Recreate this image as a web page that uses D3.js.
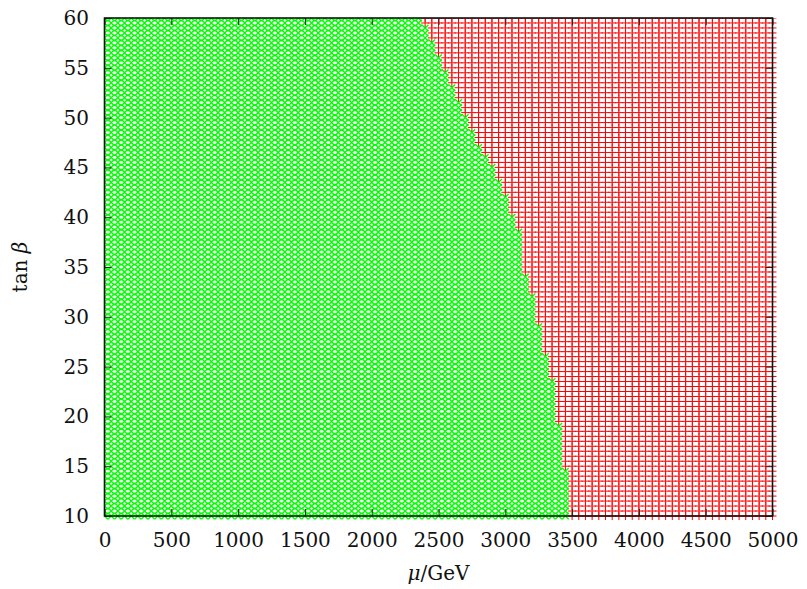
<!DOCTYPE html>
<html>
<head>
<meta charset="utf-8">
<script src="https://cdn.jsdelivr.net/npm/d3@7"></script>
<style>
  html, body { margin: 0; padding: 0; background: #fff; }
  svg text { font-family: "DejaVu Serif", serif; fill: #111; }
</style>
</head>
<body>
<svg id="chart" width="807" height="589"></svg>
<script>
// Parameter scan in the (mu, tan beta) plane.
// Scan lattice: mu in steps of 50 GeV, tan beta in steps of 0.5.
const muScan = d3.range(0, 5000 + 1, 50);
const tanBetaScan = d3.range(10, 60 + 0.001, 0.5);

// Upper edge of the allowed region: for tan beta >= bandFrom[i]
// (and below the next band), points with mu <= bandMaxMu[i] are allowed.
const bandFrom  = [10,   15,   19.5, 24,   26.5, 29.5, 32.5, 34.5, 39,   40.5, 42.5, 44,
                   45.5, 46.5, 47.5, 49,   50.5, 52,   53.5, 55,   56.5, 58,   59.5];
const bandMaxMu = [3450, 3400, 3350, 3300, 3250, 3200, 3150, 3100, 3050, 3000, 2950, 2900,
                   2850, 2800, 2750, 2700, 2650, 2600, 2550, 2500, 2450, 2400, 2350];

const xTicks = [0, 500, 1000, 1500, 2000, 2500, 3000, 3500, 4000, 4500, 5000];
const yTicks = [10, 15, 20, 25, 30, 35, 40, 45, 50, 55, 60];

const W = 807, H = 589;
const margin = { left: 104.5, right: 34.5, top: 18, bottom: 73 };
const iw = W - margin.left - margin.right;
const ih = H - margin.top - margin.bottom;

const x = d3.scaleLinear().domain([0, 5000]).range([0, iw]);
const y = d3.scaleLinear().domain([10, 60]).range([ih, 0]);

function maxMuFor(tb) {
  let m = bandMaxMu[0];
  for (let i = 0; i < bandFrom.length; i++) {
    if (tb >= bandFrom[i] - 1e-9) m = bandMaxMu[i];
  }
  return m;
}

const allowed = [], excluded = [];
tanBetaScan.forEach(tb => {
  const lim = maxMuFor(tb);
  muScan.forEach(mu => {
    (mu <= lim ? allowed : excluded).push({ mu, tb });
  });
});

const svg = d3.select("#chart");
const defs = svg.append("defs");
// points are cut at the left and top frame edges only
defs.append("clipPath").attr("id", "plotclip")
  .append("rect")
  .attr("x", 0).attr("y", 0)
  .attr("width", iw + 12).attr("height", ih + 12);

const g = svg.append("g").attr("transform", `translate(${margin.left},${margin.top})`);
const pts = g.append("g").attr("clip-path", "url(#plotclip)");

const plusHalf = 4.0;   // "+" marker arm length
const timesHalf = 3.3;  // "x" marker arm length

function plusPath(d) {
  const p = d3.path(), cx = x(d.mu), cy = y(d.tb);
  p.moveTo(cx - plusHalf, cy); p.lineTo(cx + plusHalf, cy);
  p.moveTo(cx, cy - plusHalf); p.lineTo(cx, cy + plusHalf);
  return p.toString();
}
function timesPath(d) {
  const p = d3.path(), cx = x(d.mu), cy = y(d.tb);
  p.moveTo(cx - timesHalf, cy - timesHalf); p.lineTo(cx + timesHalf, cy + timesHalf);
  p.moveTo(cx - timesHalf, cy + timesHalf); p.lineTo(cx + timesHalf, cy - timesHalf);
  return p.toString();
}

// allowed points: green crosses
pts.append("g")
  .selectAll("path").data(allowed).join("path")
  .attr("d", timesPath)
  .attr("fill", "none").attr("stroke", "#00ff00").attr("stroke-width", 1.4);

// excluded points: red plus signs
pts.append("g").selectAll("path").data(excluded).join("path")
  .attr("d", plusPath)
  .attr("fill", "none").attr("stroke", "#ff0000").attr("stroke-width", 1);

// Axes with inward ticks, mirrored on top and right
const tickLen = 7;
const xAxis = g.append("g").attr("transform", `translate(0,${ih})`)
  .call(d3.axisBottom(x).tickValues(xTicks).tickFormat(d3.format("d"))
    .tickSizeInner(-tickLen).tickSizeOuter(0).tickPadding(16.5));
const yAxis = g.append("g")
  .call(d3.axisLeft(y).tickValues(yTicks).tickFormat(d3.format("d"))
    .tickSizeInner(-tickLen).tickSizeOuter(0).tickPadding(15.5));
const xAxisTop = g.append("g")
  .call(d3.axisTop(x).tickValues(xTicks).tickFormat("")
    .tickSizeInner(-tickLen).tickSizeOuter(0));
const yAxisRight = g.append("g").attr("transform", `translate(${iw},0)`)
  .call(d3.axisRight(y).tickValues(yTicks).tickFormat("")
    .tickSizeInner(-tickLen).tickSizeOuter(0));

[xAxis, yAxis, xAxisTop, yAxisRight].forEach(a => {
  a.select(".domain").remove();
  a.selectAll(".tick line").attr("stroke", "#222").attr("stroke-width", 1);
  a.selectAll(".tick text")
    .style("font-family", '"DejaVu Serif", serif')
    .style("font-size", "20px").attr("fill", "#111");
});

// Frame
g.append("rect")
  .attr("x", 0).attr("y", 0).attr("width", iw).attr("height", ih)
  .attr("fill", "none").attr("stroke", "#111").attr("stroke-width", 1.6);

// Axis titles
const xt = svg.append("text")
  .attr("x", margin.left + x(2500)).attr("y", 580)
  .attr("text-anchor", "middle").style("font-size", "20px");
xt.append("tspan").attr("font-style", "italic").text("μ");
xt.append("tspan").text("/GeV");

const yt = svg.append("text")
  .attr("transform", `translate(27,${margin.top + y(35)}) rotate(-90)`)
  .attr("text-anchor", "middle").style("font-size", "20px");
yt.append("tspan").text("tan ");
yt.append("tspan").attr("font-style", "italic").text("β");
</script>
</body>
</html>
